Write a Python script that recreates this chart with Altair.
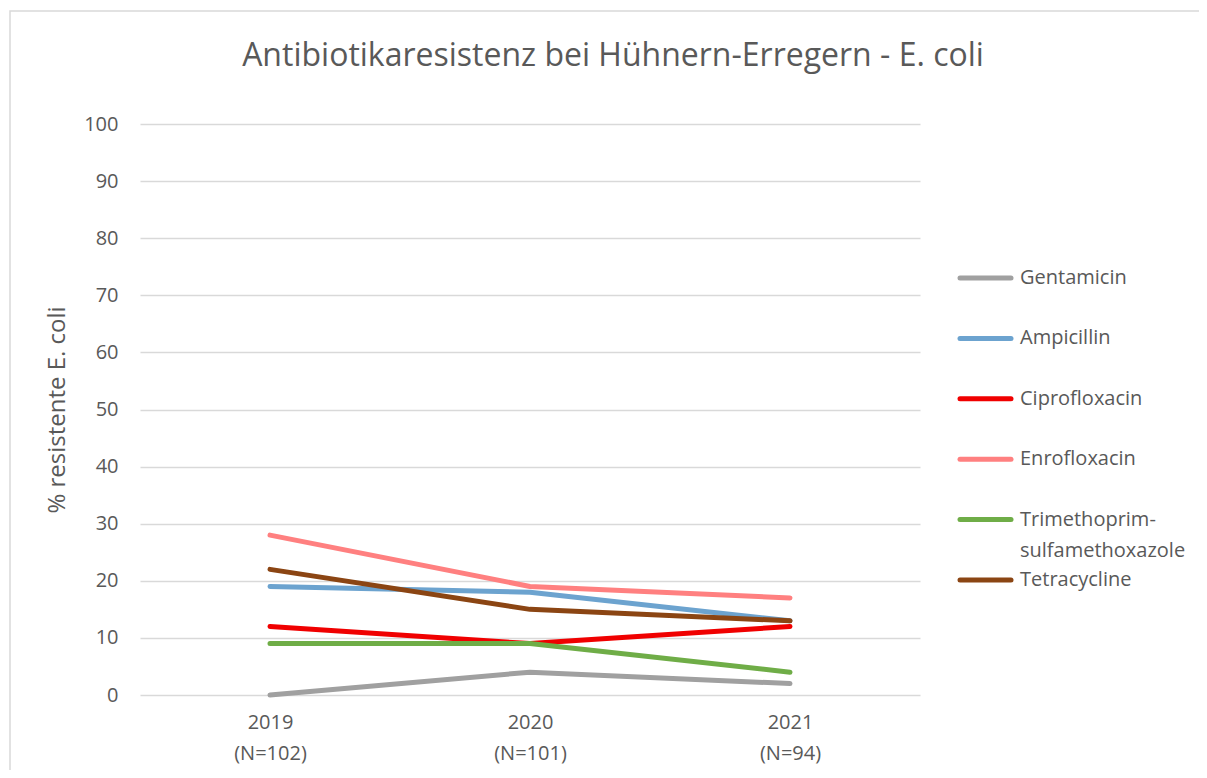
import altair as alt
import pandas as pd

years = ["2019", "2020", "2021"]
year_labels = ["2019\n(N=102)", "2020\n(N=101)", "2021\n(N=94)"]
series = ["Gentamicin", "Ampicillin", "Ciprofloxacin", "Enrofloxacin",
          "Trimethoprim-sulfamethoxazole", "Tetracycline"]
legend_labels = ["Gentamicin", "Ampicillin", "Ciprofloxacin", "Enrofloxacin",
                 "Trimethoprim-\nsulfamethoxazole", "Tetracycline"]
gentamicin = [0, 4, 2]
ampicillin = [19, 18, 13]
ciprofloxacin = [12, 9, 12]
enrofloxacin = [28, 19, 17]
trimethoprim = [9, 9, 4]
tetracycline = [22, 15, 13]
colors = ["#a0a0a0", "#6ca3cf", "#f00000", "#ff8080", "#6fad47", "#8b4513"]

values = [gentamicin, ampicillin, ciprofloxacin, enrofloxacin, trimethoprim, tetracycline]
rows = []
for s, vals in zip(series, values):
    for y, lab, v in zip(years, year_labels, vals):
        rows.append({"Antibiotikum": s, "Jahr": lab, "Wert": v})
df = pd.DataFrame(rows)
leg_df = pd.DataFrame({"Antibiotikum": series, "Label": legend_labels})

FONT = "Open Sans"
GREY = "#595959"

color_scale = alt.Scale(domain=series, range=colors)

lines = alt.Chart(df).mark_line(strokeWidth=5, strokeCap="round", strokeJoin="round").encode(
    x=alt.X("Jahr:N", sort=year_labels, scale=alt.Scale(paddingInner=0, paddingOuter=0.5),
            axis=alt.Axis(title=None, labelExpr="split(datum.label, '\\n')", labelAngle=0,
                          labelFontSize=20, labelColor=GREY, labelFont=FONT, labelLineHeight=31,
                          labelPadding=17, ticks=False, domain=False, grid=False)),
    y=alt.Y("Wert:Q", scale=alt.Scale(domain=[0, 100], nice=False),
            axis=alt.Axis(title="% resistente E. coli", values=list(range(0, 101, 10)),
                          labelFontSize=20, labelColor=GREY, labelFont=FONT, labelPadding=22,
                          titleFontSize=24, titleColor=GREY, titleFont=FONT, titleFontWeight="normal",
                          titlePadding=14, ticks=False, domain=False,
                          gridColor="#d9d9d9", gridWidth=1.5)),
    color=alt.Color("Antibiotikum:N", sort=series, scale=color_scale, legend=None),
    order=alt.Order("Antibiotikum:N"),
)

leg_y = alt.Y("Antibiotikum:N", sort=series,
              scale=alt.Scale(type="point", range=[154, 456], padding=0), axis=None)

leg_sym = alt.Chart(leg_df).mark_rule(strokeWidth=5, strokeCap="round").encode(
    x=alt.value(820), x2=alt.value(871), y=leg_y,
    color=alt.Color("Antibiotikum:N", sort=series, scale=color_scale, legend=None),
)
leg_txt = alt.Chart(leg_df).mark_text(
    align="left", baseline="middle", font=FONT, fontSize=20, color=GREY,
    lineBreak="\n", lineHeight=31,
).encode(x=alt.value(880), y=leg_y, text="Label:N")

border = alt.Chart(pd.DataFrame({"a": [0]})).mark_rect(
    fill="transparent", stroke="#d9d9d9", strokeWidth=1.5
).encode(x=alt.value(-130), x2=alt.value(1200), y=alt.value(-113), y2=alt.value(800))

chart = alt.layer(border, lines, leg_sym, leg_txt).resolve_scale(y="independent").properties(
    width=780, height=571,
    padding={"left": 132, "top": 116, "right": 279, "bottom": 75},
    autosize=alt.AutoSizeParams(type="none"),
    title=alt.TitleParams("Antibiotikaresistenz bei Hühnern-Erregern - E. coli",
                          font=FONT, fontSize=32, fontWeight="normal", color=GREY,
                          anchor="middle", dx=83, offset=-63),
).configure_view(stroke=None)

chart.save("out.html", embed_options={"renderer": "svg", "actions": False})
